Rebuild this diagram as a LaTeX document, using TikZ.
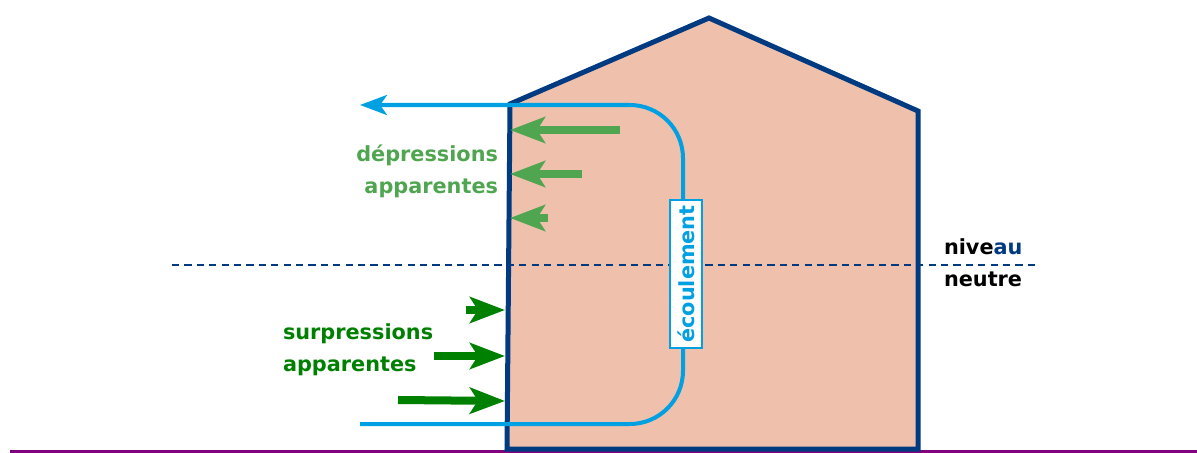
\documentclass[tikz,border=0pt]{standalone}
\usepackage{fontspec}
\setmainfont{DejaVu Sans}
\usetikzlibrary{arrows.meta}
\definecolor{maison}{RGB}{239,193,172}
\definecolor{mur}{RGB}{0,58,128}
\definecolor{flux}{RGB}{0,160,227}
\definecolor{vertclair}{RGB}{80,166,80}
\definecolor{vertfonce}{RGB}{0,128,0}
\definecolor{sol}{RGB}{128,0,128}

\begin{document}
\begin{tikzpicture}[x=0.025cm, y=-0.025cm,
  every node/.style={font=\fontsize{14.8}{22.7}\selectfont\bfseries, inner sep=0pt, outer sep=0pt},
  depfleche/.style={draw=vertclair, line width=0.2cm, -{Stealth[length=0.875cm, width=0.65cm, inset=0.2cm]}},
  surfleche/.style={depfleche, draw=vertfonce},
  flot/.style={draw=flux, line width=0.1cm, rounded corners=1.33cm, -{Stealth[length=0.675cm, width=0.5cm, inset=0.175cm]}}]
\useasboundingbox (0,0) rectangle (1197,453);

\draw[sol, line width=0.075cm] (10,451) -- (1197,451);
\draw[mur, fill=maison, line width=0.125cm, line join=miter] (507,449) -- (510,104) -- (709,18) -- (918,111) -- (918,449) -- cycle;
\draw[mur, line width=0.06cm, dash pattern=on 0.18cm off 0.13cm] (172,265) -- (1035,265);

\coordinate (debut) at (360,424);
\coordinate (fin) at (360,105);
\draw[flot] (debut) -- (683,424) -- (683,105) -- (fin);
\node[draw=flux, fill=white, text=flux, line width=0.05cm, rotate=90, minimum width=3.7cm, minimum height=0.78cm] (ecoul) at (686,274) {écoulement};

\coordinate (d1) at (620,130);
\coordinate (d2) at (582,174);
\coordinate (d3) at (548,218);
\coordinate (m1) at (510,130);
\coordinate (m2) at (510,174);
\coordinate (m3) at (510,218);
\draw[depfleche] (d1) -- (m1);
\draw[depfleche] (d2) -- (m2);
\draw[depfleche] (d3) -- (m3);

\coordinate (s1) at (466,310);
\coordinate (s2) at (434,356);
\coordinate (s3) at (398,400);
\coordinate (p1) at (505,310);
\coordinate (p2) at (505,356);
\coordinate (p3) at (505,401);
\draw[surfleche] (s1) -- (p1);
\draw[surfleche] (s2) -- (p2);
\draw[surfleche] (s3) -- (p3);

\node[text=vertclair, anchor=east, align=right] (txtdep) at (498,171) {dépressions\\apparentes};
\node[text=vertfonce, anchor=west, align=left] (txtsur) at (283,350) {surpressions\\apparentes};
\node[anchor=west, align=left] (txtniv) at (944,263) {nive\textcolor{mur}{au}\\neutre};
\end{tikzpicture}
\end{document}
